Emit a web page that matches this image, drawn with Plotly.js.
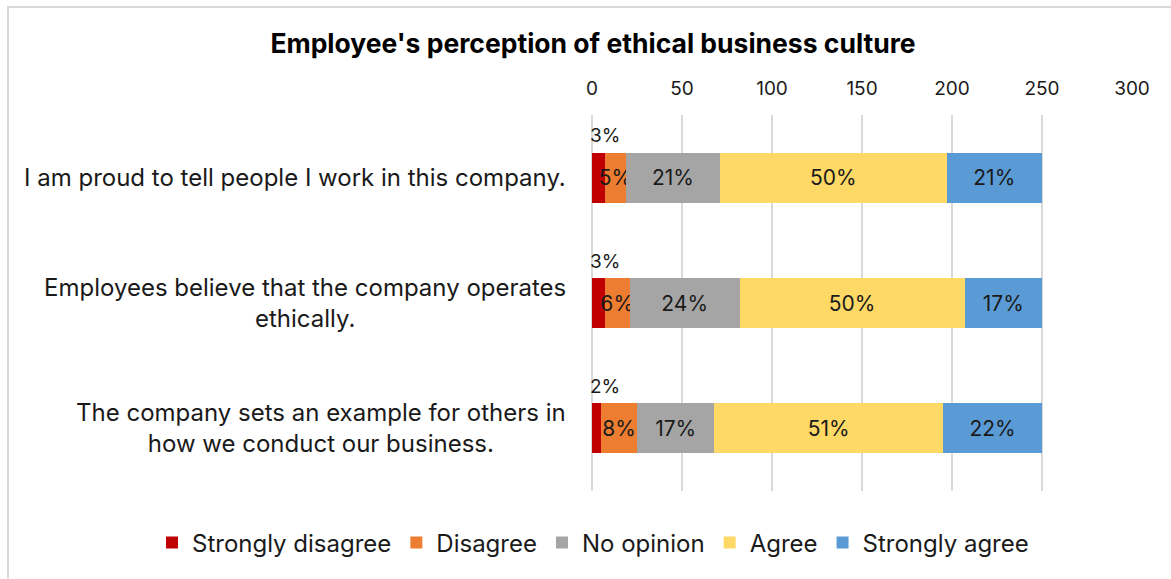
<!DOCTYPE html>
<html>
<head>
<meta charset="utf-8">
<script src="https://cdn.plot.ly/plotly-3.0.1.min.js"></script>
<style>
  html, body { margin: 0; padding: 0; background: #ffffff; }
  #wrap { position: relative; width: 1171px; height: 579px; overflow: hidden; }
  #frame { position: absolute; left: 7px; top: 6px; width: 1200px; height: 600px;
           border-left: 2px solid #d9d9d9; border-top: 2px solid #d9d9d9; pointer-events: none; }
  #chart { position: absolute; left: 0; top: 0; width: 1171px; height: 579px; }
</style>
</head>
<body>
<div id="wrap">
  <div id="chart"></div>
  <div id="frame"></div>
</div>
<script>
const categories = [
  "I am proud to tell people I work in this company.",
  "Employees believe that the company operates<br>ethically.",
  "The company sets an example for others in<br>how we conduct our business."
];
const seriesNames = ["Strongly disagree", "Disagree", "No opinion", "Agree", "Strongly agree"];
const seriesColors = ["#C00000", "#ED7D31", "#A5A5A5", "#FFD966", "#5B9BD5"];

const stronglyDisagree = [7, 7, 5];
const disagree = [12, 14, 20];
const noOpinion = [52, 61, 43];
const agree = [126, 125, 127];
const stronglyAgree = [53, 43, 55];

const stronglyDisagreeLabels = ["3%", "3%", "2%"];
const disagreeLabels = ["5%", "6%", "8%"];
const noOpinionLabels = ["21%", "24%", "17%"];
const agreeLabels = ["50%", "50%", "51%"];
const stronglyAgreeLabels = ["21%", "17%", "22%"];

const xTicks = [0, 50, 100, 150, 200, 250, 300];

const values = [stronglyDisagree, disagree, noOpinion, agree, stronglyAgree];
const labels = [stronglyDisagreeLabels, disagreeLabels, noOpinionLabels, agreeLabels, stronglyAgreeLabels];

const FONT = "Inter, 'Noto Sans', sans-serif";
const TXT = "#1a1a1a";

const traces = seriesNames.map((name, i) => ({
  type: "bar",
  orientation: "h",
  name: name,
  y: categories,
  x: values[i],
  text: labels[i],
  textposition: i === 0 ? "none" : "inside",
  insidetextanchor: "middle",
  textangle: 0,
  constraintext: "none",
  textfont: { family: FONT, size: 21, color: TXT },
  marker: { color: seriesColors[i], line: { width: 0 } },
  hoverinfo: "skip"
}));

const annotations = [];
// labels for the smallest segment, shown above the bar
categories.forEach((c, k) => {
  annotations.push({
    x: 0, y: c, xref: "x", yref: "y",
    text: stronglyDisagreeLabels[k],
    showarrow: false, xanchor: "left", yanchor: "middle",
    xshift: -4, yshift: 42,
    font: { family: FONT, size: 19, color: TXT }
  });
});
// category labels: right-aligned block, lines centered
categories.forEach((c) => {
  annotations.push({
    x: 0, y: c, xref: "paper", yref: "y",
    text: c,
    showarrow: false, xanchor: "right", yanchor: "middle", align: "center",
    xshift: -24, yshift: 0,
    font: { family: FONT, size: 24, color: TXT }
  });
});

const layout = {
  width: 1171, height: 579,
  margin: { l: 592, r: 39, t: 115, b: 88, pad: 0 },
  paper_bgcolor: "#ffffff",
  plot_bgcolor: "#ffffff",
  barmode: "stack",
  bargap: 0.6,
  title: {
    text: "<b>Employee's perception of ethical business culture</b>",
    x: 593 / 1171, xref: "container", xanchor: "center",
    y: 1 - 44 / 579, yref: "container", yanchor: "middle",
    font: { family: FONT, size: 26.5, color: "#000000" }
  },
  xaxis: {
    side: "top",
    range: [0, 300],
    tickvals: xTicks,
    ticktext: xTicks.map(String),
    showgrid: true, gridcolor: "#d9d9d9", gridwidth: 2,
    zeroline: true, zerolinecolor: "#d9d9d9", zerolinewidth: 2,
    showline: false,
    ticks: "", ticklabelstandoff: 15,
    tickfont: { family: FONT, size: 19, color: TXT },
    fixedrange: true
  },
  yaxis: {
    type: "category",
    autorange: "reversed",
    showticklabels: false,
    showgrid: false, zeroline: false, showline: false, ticks: "",
    fixedrange: true
  },
  showlegend: true,
  legend: {
    orientation: "h",
    x: (152 - 592) / 540, xref: "paper", xanchor: "left",
    y: (491 - 543) / 376, yref: "paper", yanchor: "middle",
    font: { family: FONT, size: 24, color: TXT },
    traceorder: "normal",
    itemclick: false, itemdoubleclick: false
  },
  annotations: annotations
};

Plotly.newPlot("chart", traces, layout, { displayModeBar: false, staticPlot: true });
</script>
</body>
</html>
